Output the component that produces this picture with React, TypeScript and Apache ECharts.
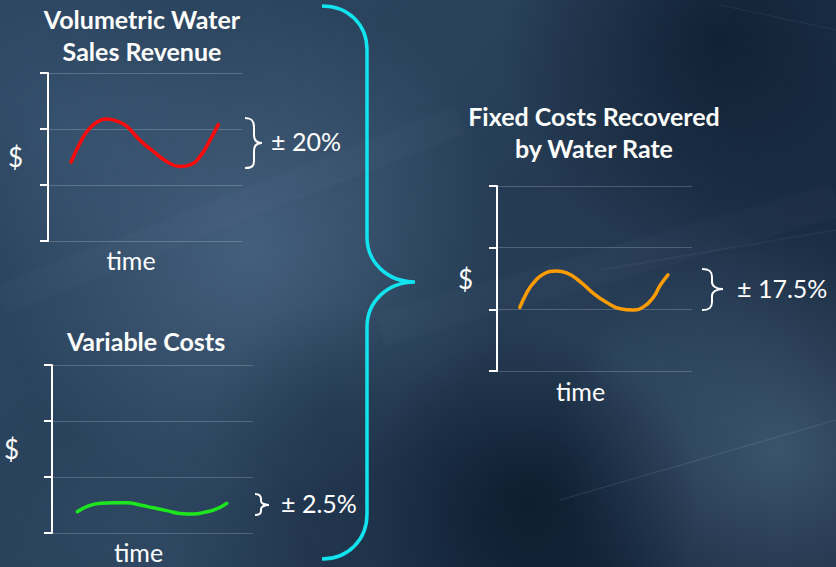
import React, { useEffect, useRef } from "react";
import * as echarts from "echarts";

// Volumetric water sales revenue (red), relative $ level over time
const revenueTime = [1.19, 1.65, 2.02, 2.51, 2.99, 3.54, 4.05, 4.74, 5.43, 6.12, 6.8, 7.32, 7.84, 8.35, 8.78];
const revenueValue = [1.41, 1.75, 1.96, 2.12, 2.18, 2.14, 2.05, 1.8, 1.6, 1.42, 1.33, 1.36, 1.51, 1.8, 2.08];

// Variable costs (green)
const costTime = [1.26, 1.73, 2.39, 3.05, 3.72, 4.38, 5.04, 5.71, 6.37, 7.03, 7.7, 8.19, 8.69];
const costValue = [0.38, 0.47, 0.53, 0.54, 0.54, 0.5, 0.45, 0.4, 0.35, 0.34, 0.38, 0.43, 0.53];

// Fixed costs recovered by the water rate (orange)
const fixedTime = [1.17, 1.51, 1.85, 2.37, 3.05, 3.57, 4.26, 4.94, 5.63, 6.31, 7.0, 7.51, 8.03, 8.37, 8.77];
const fixedValue = [1.03, 1.26, 1.42, 1.57, 1.62, 1.59, 1.45, 1.26, 1.11, 1.01, 0.99, 1.04, 1.2, 1.39, 1.56];

// Panel titles and variation labels
const panelTitles = ["Volumetric Water\nSales Revenue", "Variable Costs", "Fixed Costs Recovered\nby Water Rate"];
const variationLabels = ["± 20%", "± 2.5%", "± 17.5%"];
const yAxisName = "$";
const xAxisName = "time";

const FONT = "Lato, 'Open Sans', sans-serif";

// Brace outlines
const BIG_BRACE =
  "M322,6 C348,6 367,24 367,50 L367,237 C367,262 387,282 415,282 C387,282 367,302 367,327 L367,514 C367,540 348,559 322,559";
const REVENUE_BRACE =
  "M245,118 C252,118 254,121 254,127 L254,135 C254,140 256,143 262,143 C256,143 254,146 254,151 L254,161 C254,166 252,168 245,168";
const COST_BRACE =
  "M255,494 C259,494 261,496 261,499 L261,501 C261,503 264,505 269,505 C264,505 261,507 261,509 L261,511 C261,514 259,515 255,515";
const FIXED_BRACE =
  "M702,269 C710,269 712,272 712,277 L712,282 C712,286 716,289 723,289 C716,289 712,292 712,296 L712,302 C712,307 710,310 702,310";

echarts.graphic.registerShape("braceBig", echarts.graphic.extendPath(BIG_BRACE, {}));
echarts.graphic.registerShape("braceRevenue", echarts.graphic.extendPath(REVENUE_BRACE, {}));
echarts.graphic.registerShape("braceCost", echarts.graphic.extendPath(COST_BRACE, {}));
echarts.graphic.registerShape("braceFixed", echarts.graphic.extendPath(FIXED_BRACE, {}));

const pairs = (xs: number[], ys: number[]) => xs.map((x, i) => [x, ys[i]]);

function yAxis(gridIndex: number, nameGap: number) {
  return {
    gridIndex,
    type: "value",
    min: 0,
    max: 3,
    interval: 1,
    name: yAxisName,
    nameLocation: "middle",
    nameRotate: 0,
    nameGap,
    nameTextStyle: { color: "#ffffff", fontSize: 26, fontFamily: FONT },
    axisLine: { show: true, lineStyle: { color: "#ffffff", width: 2 } },
    axisTick: { show: true, length: 8, lineStyle: { color: "#ffffff", width: 2 } },
    axisLabel: { show: false },
    splitLine: { show: true, lineStyle: { color: "rgba(255,255,255,0.2)", width: 1 } },
  };
}

function xAxis(gridIndex: number, nameGap: number) {
  return {
    gridIndex,
    type: "value",
    min: 0,
    max: 10,
    name: xAxisName,
    nameLocation: "middle",
    nameGap,
    nameTextStyle: {
      color: "#ffffff",
      fontSize: 25,
      fontFamily: FONT,
      verticalAlign: "top",
      padding: [0, 28, 0, 0],
    },
    axisLine: { show: false },
    axisTick: { show: false },
    axisLabel: { show: false },
    splitLine: { show: false },
  };
}

function lineSeries(idx: number, data: number[][], color: string) {
  return {
    type: "line",
    xAxisIndex: idx,
    yAxisIndex: idx,
    data,
    smooth: 0.5,
    showSymbol: false,
    lineStyle: { color, width: 3.5, cap: "round", join: "round" },
    z: 5,
  };
}

function titleText(text: string, x: number, y: number) {
  return {
    type: "text",
    x,
    y,
    z: 10,
    style: {
      text,
      fill: "#ffffff",
      font: `bold 25px ${FONT}`,
      align: "center",
      verticalAlign: "top",
      lineHeight: 32,
    },
  };
}

function valueText(text: string, x: number, y: number) {
  return {
    type: "text",
    x,
    y,
    z: 10,
    style: {
      text,
      fill: "#ffffff",
      font: `25px ${FONT}`,
      align: "left",
      verticalAlign: "middle",
    },
  };
}

function backgroundLayers() {
  const soft = (cx: number, cy: number, r: number, c: string) => ({
    type: "circle",
    silent: true,
    z: -9,
    shape: { cx, cy, r },
    style: {
      fill: {
        type: "radial",
        x: 0.5,
        y: 0.5,
        r: 0.5,
        colorStops: [
          { offset: 0, color: c },
          { offset: 1, color: c.replace(/[\d.]+\)$/, "0)") },
        ],
      },
    },
  });
  const streak = (x1: number, y1: number, x2: number, y2: number, o: number, w: number) => ({
    type: "line",
    silent: true,
    z: -8,
    shape: { x1, y1, x2, y2 },
    style: { stroke: `rgba(200,220,240,${o})`, lineWidth: w },
  });
  return [
    {
      type: "rect",
      silent: true,
      z: -10,
      shape: { x: 0, y: 0, width: 836, height: 567 },
      style: {
        fill: {
          type: "linear",
          x: 0,
          y: 0,
          x2: 1,
          y2: 0.6,
          colorStops: [
            { offset: 0, color: "#2b4560" },
            { offset: 0.45, color: "#2a425c" },
            { offset: 1, color: "#16283d" },
          ],
        },
      },
    },
    soft(250, 250, 260, "rgba(88,118,148,0.55)"),
    soft(60, 120, 160, "rgba(70,100,130,0.35)"),
    soft(780, 450, 220, "rgba(96,126,156,0.5)"),
    soft(620, 370, 200, "rgba(70,100,130,0.3)"),
    soft(720, 40, 220, "rgba(6,18,34,0.6)"),
    soft(530, 500, 170, "rgba(6,18,34,0.65)"),
    soft(160, 560, 150, "rgba(70,100,130,0.3)"),
    soft(330, 420, 120, "rgba(20,40,62,0.35)"),
    streak(560, 500, 836, 420, 0.12, 1.2),
    streak(720, 5, 836, 30, 0.08, 1),
    streak(0, 300, 460, 120, 0.025, 30),
    streak(380, 330, 836, 200, 0.025, 34),
    streak(600, 270, 836, 230, 0.05, 2),
  ];
}

export default function App() {
  const ref = useRef<HTMLDivElement>(null);

  useEffect(() => {
    if (!ref.current) return;
    const chart = echarts.init(ref.current, undefined, { renderer: "svg" });
    chart.setOption({
      animation: false,
      backgroundColor: "#223a54",
      grid: [
        { left: 48, top: 73, width: 194, height: 168 },
        { left: 52, top: 365, width: 201, height: 168 },
        { left: 497, top: 186, width: 195, height: 185 },
      ],
      xAxis: [xAxis(0, 6), xAxis(1, 6), xAxis(2, 7)],
      yAxis: [yAxis(0, 25), yAxis(1, 33), yAxis(2, 24)],
      series: [
        lineSeries(0, pairs(revenueTime, revenueValue), "#ff0a0a"),
        lineSeries(1, pairs(costTime, costValue), "#1ee61e"),
        lineSeries(2, pairs(fixedTime, fixedValue), "#ff9c00"),
      ],
      graphic: [
        ...backgroundLayers(),
        titleText(panelTitles[0], 142, 3),
        titleText(panelTitles[1], 146, 325),
        titleText(panelTitles[2], 594, 100),
        valueText(variationLabels[0], 271, 141),
        valueText(variationLabels[1], 281, 503),
        valueText(variationLabels[2], 737, 288),
        {
          type: "braceBig",
          z: 6,
          style: { stroke: "#12e4ef", lineWidth: 3.5, fill: null },
        },
        { type: "braceRevenue", z: 6, style: { stroke: "#ffffff", lineWidth: 2, fill: null } },
        { type: "braceCost", z: 6, style: { stroke: "#ffffff", lineWidth: 2, fill: null } },
        { type: "braceFixed", z: 6, style: { stroke: "#ffffff", lineWidth: 2, fill: null } },
      ],
    });
    return () => chart.dispose();
  }, []);

  return <div ref={ref} style={{ width: 836, height: 567, position: "absolute", left: 0, top: 0 }} />;
}
